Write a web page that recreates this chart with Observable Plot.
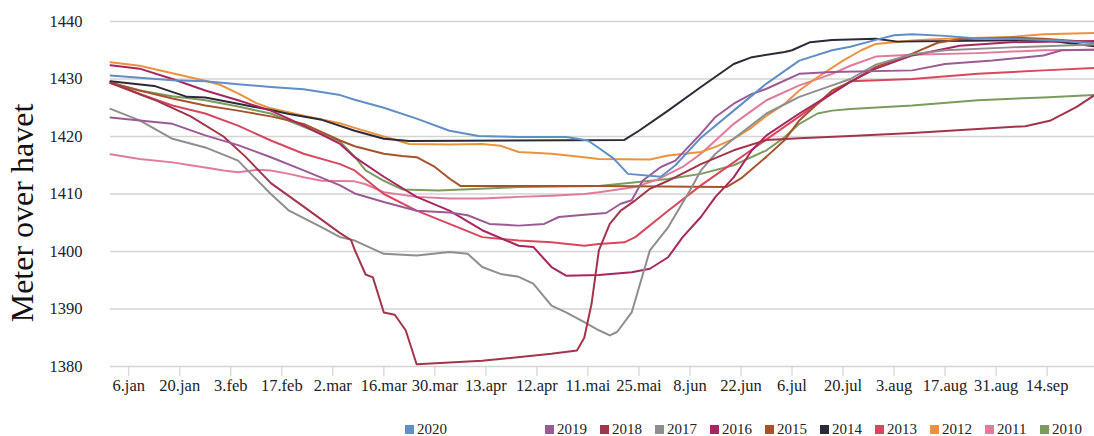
<!DOCTYPE html>
<html>
<head>
<meta charset="utf-8">
<script src="https://cdn.jsdelivr.net/npm/d3@7"></script>
<script src="https://cdn.jsdelivr.net/npm/@observablehq/plot@0.6"></script>
<style>
  html, body { margin: 0; padding: 0; background: #fff; }
  #wrap { position: relative; width: 1094px; font-family: 'Liberation Serif', 'Times New Roman', serif; }
  #legend { position: relative; width: 1094px; height: 35px; }
  .item { position: absolute; top: 22px; height: 13px; line-height: 13px; display: flex; align-items: center; font-size: 15px; color: #222; }
  .sw { width: 9px; height: 9px; margin-right: 3px; }
</style>
</head>
<body>
<div id="wrap"></div>
<script>
// ---- data (day-of-year offset from 1 Jan 2020, water level in m.o.h.) ----
const years = ["2020","2019","2018","2017","2016","2015","2014","2013","2012","2011","2010"];
const colors = ["#5f8fc6","#9b5a93","#a3344a","#8e8e8e","#a8265f","#a8522b","#2d2937","#d9475e","#eb923e","#e17a9c","#7c9b5f"];
const yTicks = [1380,1390,1400,1410,1420,1430,1440];
const xTickLabels = ["6.jan","20.jan","3.feb","17.feb","2.mar","16.mar","30.mar","13.apr","12.apr","11.mai","25.mai","8.jun","22.jun","6.jul","20.jul","3.aug","17.aug","31.aug","14.sep"];

const s2020 = [[0,1430.6],[8,1430.2],[17,1429.8],[26,1429.6],[35,1429.1],[44,1428.6],[53,1428.2],[63,1427.2],[67,1426.4],[75,1425],[84,1423.1],[93,1421],[101,1420.1],[112,1419.9],[125,1419.9],[131,1419.3],[134,1418],[138,1416.2],[142,1413.5],[151,1413],[155,1415],[162,1419.8],[171,1424.5],[180,1429.2],[189,1433.2],[198,1435],[203,1435.6],[210,1436.8],[215,1437.6],[220,1437.8],[229,1437.5],[237,1437.1],[247,1437],[260,1436.7],[270,1436.2]];
const s2019 = [[0,1423.3],[8,1422.8],[17,1422.2],[26,1420.2],[35,1418.5],[44,1416.4],[53,1414.1],[63,1411.5],[67,1410.1],[75,1408.6],[84,1407.1],[93,1406.8],[98,1406.3],[104,1404.8],[112,1404.5],[119,1404.8],[123,1406],[130,1406.4],[136,1406.7],[140,1408.3],[143,1408.9],[146,1412.3],[151,1414.7],[155,1415.8],[162,1420.5],[166,1423.4],[171,1425.7],[176,1427.4],[180,1428.3],[189,1430.9],[198,1431.2],[220,1431.5],[229,1432.6],[242,1433.2],[256,1434.1],[261,1435],[270,1435.1]];
const s2018 = [[0,1429.3],[12,1426.4],[22,1423.5],[31,1420],[37,1416.5],[44,1411.9],[53,1407.8],[63,1403.2],[66,1402],[67,1400.3],[70,1396],[72,1395.5],[75,1389.4],[78,1389],[81,1386.3],[84,1380.4],[102,1381],[121,1382.2],[128,1382.8],[130,1385],[132,1390.9],[134,1400.2],[137,1404.8],[140,1407.1],[144,1408.9],[148,1410.9],[153,1412.3],[162,1415.2],[171,1417.6],[180,1419.4],[189,1419.7],[203,1420.1],[220,1420.6],[238,1421.3],[251,1421.8],[258,1422.8],[265,1425.1],[270,1427.2]];
const s2017 = [[0,1424.8],[8,1422.8],[17,1419.6],[26,1418.1],[35,1415.8],[44,1410],[49,1407.1],[58,1404.2],[63,1402.5],[67,1401.9],[75,1399.6],[84,1399.3],[93,1399.9],[98,1399.6],[102,1397.3],[107,1396.1],[112,1395.6],[116,1394.4],[121,1390.6],[125,1389.4],[130,1387.7],[134,1386.3],[137,1385.4],[139,1386],[143,1389.4],[148,1400.2],[153,1404.2],[159,1410.6],[162,1414.1],[166,1417],[171,1419.6],[180,1424],[189,1426.9],[198,1428.9],[203,1430],[210,1432.5],[220,1434.3],[229,1435],[247,1435.5],[270,1436]];
const s2016 = [[0,1432.4],[8,1431.8],[17,1430],[26,1428],[35,1426.3],[44,1424.5],[53,1421.9],[63,1418.7],[67,1416.4],[75,1413],[84,1409.5],[93,1407.1],[102,1403.7],[112,1401],[116,1400.8],[121,1397.3],[125,1395.8],[134,1395.9],[143,1396.4],[148,1397],[153,1399],[157,1402.5],[162,1406],[166,1409.5],[171,1412.9],[176,1417.6],[180,1420.2],[189,1424],[198,1427.5],[203,1429.5],[210,1431.8],[220,1434.1],[233,1435.8],[247,1436.4],[270,1436.6]];
const s2015 = [[0,1429.3],[8,1428],[17,1426.6],[26,1425.4],[35,1424.5],[44,1423.5],[53,1422.2],[63,1419.3],[67,1418.3],[75,1417],[80,1416.6],[84,1416.4],[89,1414.7],[93,1412.7],[96,1411.4],[134,1411.4],[169,1411.2],[173,1412.7],[180,1416.5],[185,1419.4],[189,1422.8],[194,1425.7],[198,1428],[203,1429.5],[210,1432.1],[220,1434.4],[227,1436.3],[233,1436.9],[247,1437.2],[256,1437],[270,1436.4]];
const s2014 = [[0,1429.6],[12,1428.8],[21,1426.9],[26,1426.8],[35,1425.7],[44,1424.6],[49,1423.9],[58,1422.9],[67,1421],[75,1419.6],[82,1419.2],[141,1419.4],[145,1421],[153,1424.5],[162,1428.6],[171,1432.6],[176,1433.8],[185,1434.7],[187,1435],[192,1436.4],[198,1436.8],[210,1437],[216,1436.5],[256,1436.8],[265,1436.1],[270,1435.7]];
const s2013 = [[0,1429.5],[8,1427.4],[17,1425.4],[26,1424],[35,1421.9],[44,1419.3],[53,1417],[63,1415.2],[67,1414.1],[75,1410],[84,1407.1],[93,1404.8],[102,1402.5],[112,1401.9],[121,1401.6],[130,1401],[134,1401.3],[141,1401.6],[144,1402.5],[153,1407.1],[162,1411.5],[171,1415.5],[180,1419.5],[189,1423.5],[198,1427.5],[203,1429.6],[220,1430],[238,1430.9],[256,1431.5],[270,1431.9]];
const s2012 = [[0,1432.9],[8,1432.3],[17,1431],[26,1429.7],[30,1429],[35,1427.5],[40,1425.8],[44,1424.9],[53,1423.6],[63,1422.3],[67,1421.5],[75,1420],[82,1418.7],[93,1418.6],[102,1418.7],[107,1418.4],[112,1417.3],[121,1417],[130,1416.4],[134,1416.1],[148,1416],[153,1416.7],[162,1417.3],[166,1418.2],[171,1419.6],[176,1421.6],[180,1423.6],[185,1425.7],[189,1428],[194,1430.3],[201,1433.2],[206,1435],[210,1436.1],[220,1436.7],[229,1437],[247,1437.3],[256,1437.8],[270,1438]];
const s2011 = [[0,1416.9],[8,1416.1],[17,1415.5],[22,1415],[26,1414.6],[31,1414.1],[35,1413.8],[40,1414.2],[44,1414.1],[49,1413.5],[53,1412.9],[58,1412.3],[67,1412.2],[70,1411.7],[75,1410.3],[84,1409.5],[93,1409.2],[102,1409.2],[112,1409.5],[121,1409.7],[130,1410],[134,1410.3],[144,1411.2],[150,1412.5],[157,1414.7],[162,1417],[166,1419.3],[171,1422.2],[176,1424.5],[180,1426.3],[189,1428.9],[198,1430.9],[203,1432.3],[210,1433.9],[220,1434.2],[238,1434.5],[256,1435],[270,1435.1]];
const s2010 = [[0,1429.4],[8,1428],[17,1427],[26,1426.3],[35,1425.2],[44,1424],[53,1421.7],[63,1419.1],[67,1416.5],[70,1414.1],[75,1412.3],[80,1410.8],[90,1410.6],[112,1411.2],[134,1411.4],[153,1412.6],[162,1413.5],[171,1415],[180,1417.6],[185,1419.9],[189,1422.2],[194,1424],[198,1424.5],[203,1424.8],[220,1425.4],[238,1426.3],[256,1426.8],[270,1427.2]];

const seriesByYear = {"2020": s2020, "2019": s2019, "2018": s2018, "2017": s2017, "2016": s2016, "2015": s2015, "2014": s2014, "2013": s2013, "2012": s2012, "2011": s2011, "2010": s2010};

// ---- build table ----
const dayToDate = d => new Date(Date.UTC(2020, 0, 1 + d));
const drawOrder = ["2010","2011","2012","2013","2014","2015","2016","2017","2018","2019","2020"];
const rows = [];
for (const yr of drawOrder) for (const [d, v] of seriesByYear[yr]) rows.push({year: yr, date: dayToDate(d), value: v});

const tickDates = xTickLabels.map((_, i) => new Date(Date.UTC(2020, 0, 6 + 14 * i)));
const labelOf = new Map(tickDates.map((d, i) => [+d, xTickLabels[i]]));

const chart = Plot.plot({
  width: 1094,
  height: 401,
  marginLeft: 110,
  marginRight: 0,
  marginTop: 21,
  marginBottom: 35,
  style: {fontFamily: "'Liberation Serif','Times New Roman',serif", fontSize: "16.5px", color: "#222", background: "#fff", overflow: "visible"},
  x: {type: "utc", domain: [dayToDate(0), dayToDate(270)]},
  y: {domain: [1380, 1440]},
  color: {domain: years, range: colors},
  marks: [
    Plot.gridY(yTicks, {stroke: "#d4d4d4", strokeOpacity: 1, strokeWidth: 1.6}),
    Plot.axisY(yTicks, {tickSize: 0, tickPadding: 28, label: null, fontSize: 16.5, fill: "#222", tickFormat: d => String(d)}),
    Plot.axisX(tickDates, {tickSize: 10, tickPadding: 3, label: null, stroke: "#d4d4d4", strokeWidth: 1.2, fill: "#222", fontSize: 16.5, tickFormat: d => labelOf.get(+d)}),
    Plot.lineY(rows, {x: "date", y: "value", z: "year", stroke: "year", strokeWidth: 2, curve: "linear"}),
    Plot.text(["Meter over havet"], {text: d => d, frameAnchor: "left", textAnchor: "middle", dx: -88, dy: 19, rotate: -90, fontSize: 32, fill: "#111"})
  ]
});

const wrap = document.getElementById("wrap");
wrap.appendChild(chart);

// ---- legend ----
const legend = document.createElement("div");
legend.id = "legend";
years.forEach((yr, i) => {
  const left = i === 0 ? 405 : 545 + 55 * (i - 1);
  const it = document.createElement("div");
  it.className = "item";
  it.style.left = left + "px";
  const sw = document.createElement("span");
  sw.className = "sw";
  sw.style.background = colors[i];
  const tx = document.createElement("span");
  tx.textContent = yr;
  it.appendChild(sw);
  it.appendChild(tx);
  legend.appendChild(it);
});
wrap.appendChild(legend);
</script>
</body>
</html>
